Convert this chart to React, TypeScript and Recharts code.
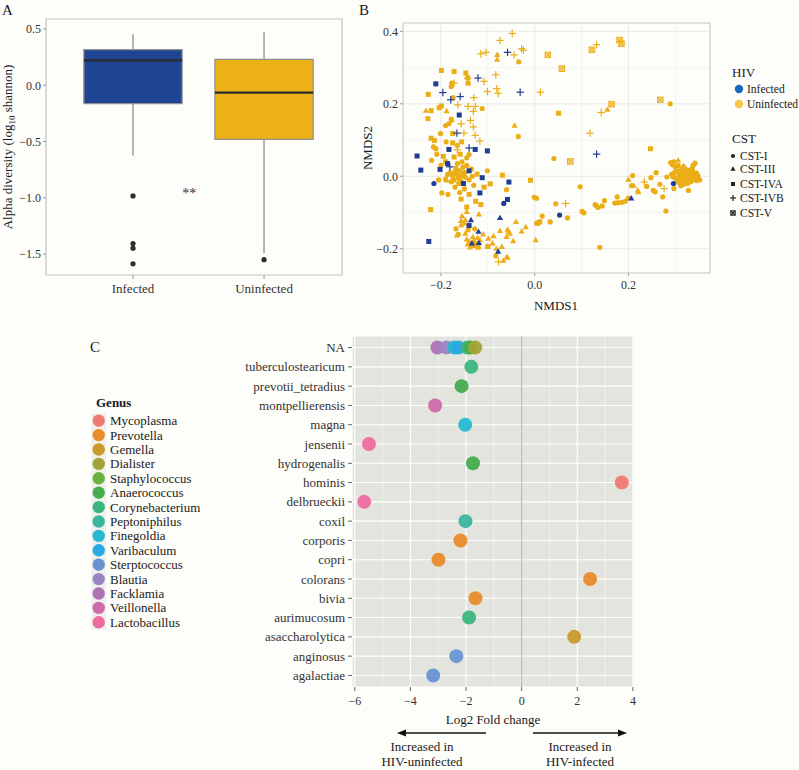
import React from 'react';
import {
  ComposedChart,
  ScatterChart,
  Scatter,
  XAxis,
  YAxis,
  CartesianGrid,
  ReferenceArea,
  ReferenceLine,
} from 'recharts';

const FONT = '"Liberation Serif", "DejaVu Serif", serif';
const INK = '#333333';
const BLUE = '#1f3d94';
const GOLD = '#ebae17';

// ---------- Panel A: alpha diversity box plot ----------
const groups = ['Infected', 'Uninfected'];
const boxFill = ['#1f4592', '#ecb117'];
const q1 = [-0.163, -0.48];
const median = [0.222, -0.066];
const q3 = [0.316, 0.231];
const whiskerLow = [-0.625, -1.49];
const whiskerHigh = [0.453, 0.476];
const outlierGroup = [1, 1, 1, 1, 2];
const outlierValue = [-0.983, -1.407, -1.448, -1.587, -1.55];
const sigMark = [{ x: 1.43, y: -0.936, text: '**' }];

// ---------- Panel B: NMDS ordination, [NMDS1, NMDS2] ----------
const cstNames = ['CST-I', 'CST-III', 'CST-IVA', 'CST-IVB', 'CST-V'];
const cstShapes = ['circle', 'triangle', 'square', 'plus', 'boxcross'];

const infCST1 = [[-0.215, -0.02], [-0.066, -0.075], [0.053, -0.107], [0.296, -0.02]];
const infCST3 = [
  [-0.136, -0.121], [-0.12, -0.153], [-0.074, -0.115], [-0.078, -0.208], [0.206, -0.061],
  [-0.134, -0.185], [-0.119, -0.184],
];
const infCST4A = [
  [-0.211, 0.255], [-0.161, 0.169], [-0.183, 0.074], [-0.127, 0.074], [-0.101, 0.07],
  [-0.251, 0.056], [-0.243, 0.017], [-0.202, 0.019], [-0.186, 0.035], [-0.14, 0.015],
  [-0.112, -0.004], [-0.152, -0.02], [-0.117, -0.046], [-0.055, -0.016], [-0.058, -0.064],
  [-0.226, -0.18], [-0.14, -0.136],
];
const infCST4B = [
  [-0.058, 0.342], [-0.121, 0.271], [-0.031, 0.232], [-0.196, 0.231], [-0.179, 0.211],
  [-0.159, 0.22], [-0.166, 0.119], [-0.14, 0.078], [0.132, 0.061], [-0.181, 0.026],
];
const infCST5: number[][] = [];

const uninfCST1 = [
  [-0.034, 0.316], [-0.112, 0.187], [-0.177, 0.257], [-0.178, 0.248], [-0.174, 0.217],
  [-0.178, 0.158], [-0.183, 0.145], [-0.035, 0.11], [-0.201, 0.118], [-0.216, 0.081],
  [-0.211, 0.076], [-0.189, 0.095], [-0.209, 0.061], [-0.22, 0.044], [-0.145, 0.051],
  [-0.18, 0.01], [-0.101, 0.015], [-0.198, -0.046], [-0.185, -0.05], [-0.06, -0.037],
  [-0.001, -0.058], [0.004, -0.061], [0.041, 0.049], [0.289, 0.2], [0.045, -0.076],
  [0.097, -0.029], [0.101, -0.097], [0.105, -0.101], [0.07, -0.115], [0.016, -0.11],
  [0.01, -0.126], [0.004, -0.129], [0.033, -0.126], [0.139, -0.196], [0.129, -0.078],
  [0.135, -0.086], [0.132, -0.082], [0.144, -0.082], [0.149, -0.067], [0.171, -0.074],
  [0.178, -0.073], [0.186, -0.072], [0.193, -0.069], [0.2, -0.06], [0.176, -0.057],
  [0.207, -0.026], [0.209, 0.002], [0.239, -0.028], [0.248, -0.004], [0.259, 0.01],
  [0.253, -0.039], [0.257, -0.043], [0.267, -0.022], [0.273, -0.057], [0.28, -0.096],
  [0.282, -0.002], [0.297, -0.034], [0.328, -0.039],
  [-0.17, 0.012], [-0.165, 0.005], [-0.16, 0.015], [-0.155, 0.002], [-0.15, 0.01],
  [-0.163, -0.005], [-0.172, -0.01], [-0.158, -0.012], [-0.148, -0.003], [-0.168, 0.022],
  [-0.153, 0.025], [-0.145, 0.03], [-0.175, 0.0], [-0.162, -0.02], [-0.178, -0.015],
  [-0.14, -0.01], [-0.133, 0.0], [-0.135, 0.02], [-0.155, 0.04], [-0.165, 0.035],
  [-0.186, 0.005], [-0.19, -0.008], [-0.205, -0.01], [-0.17, -0.03], [-0.15, -0.035],
  [-0.13, -0.025], [-0.16, -0.045], [-0.2, 0.03],
  [-0.168, -0.145], [-0.163, -0.16], [-0.142, -0.148], [-0.128, -0.145], [-0.083, -0.22],
  [-0.19, 0.14], [-0.165, 0.085], [-0.14, 0.06],
  [0.3, -0.005], [0.305, -0.012], [0.308, 0.002], [0.312, -0.008], [0.315, -0.015],
  [0.318, 0.0], [0.32, -0.01], [0.322, -0.004], [0.325, -0.012], [0.328, -0.002],
  [0.33, -0.009], [0.333, -0.015], [0.335, -0.004], [0.338, -0.01], [0.34, -0.002],
  [0.343, -0.008], [0.346, -0.012], [0.349, -0.006], [0.352, -0.01], [0.31, 0.008],
  [0.316, 0.012], [0.322, 0.006], [0.327, 0.01], [0.332, 0.005], [0.337, 0.012],
  [0.342, 0.004], [0.345, 0.009], [0.303, 0.015], [0.298, 0.01], [0.295, -0.002],
  [0.292, 0.005], [0.3, 0.025], [0.294, 0.032], [0.29, 0.038], [0.297, 0.04],
  [0.313, 0.02], [0.318, 0.026], [0.338, 0.03], [0.342, 0.036], [0.336, 0.022],
  [0.326, -0.02], [0.318, -0.022], [0.308, -0.018], [0.306, 0.03], [0.324, 0.018],
  [0.331, 0.016], [0.348, 0.002], [0.312, -0.026],
];
const uninfCST3 = [
  [-0.08, 0.335], [-0.08, 0.322], [-0.232, 0.181], [-0.188, 0.18], [-0.177, 0.154],
  [-0.043, 0.14], [0.155, 0.184], [0.002, -0.176], [0.2, -0.009], [0.22, -0.039],
  [0.221, -0.044], [0.211, -0.026], [0.306, 0.044], [0.317, 0.028], [0.313, 0.01],
  [0.326, 0.0], [-0.188, -0.011],
  [-0.157, -0.123], [-0.148, -0.121], [-0.157, -0.135], [-0.119, -0.105], [-0.074, -0.151],
  [-0.058, -0.147], [-0.166, -0.163], [-0.148, -0.158], [-0.145, -0.174], [-0.14, -0.18],
  [-0.135, -0.19], [-0.13, -0.178], [-0.125, -0.186], [-0.12, -0.194], [-0.117, -0.176],
  [-0.143, -0.188], [-0.138, -0.196], [-0.128, -0.192], [-0.122, -0.17], [-0.132, -0.168],
  [-0.099, -0.172], [-0.088, -0.165], [-0.101, -0.193], [-0.06, -0.224], [-0.067, -0.233],
  [-0.058, -0.224], [-0.04, -0.126], [-0.019, -0.14], [-0.028, -0.152], [-0.046, -0.179],
  [-0.056, -0.153], [-0.06, -0.167], [-0.053, -0.158], [-0.15, -0.13], [-0.11, -0.16],
  [-0.09, -0.185], [-0.082, -0.2], [-0.07, -0.195], [-0.155, -0.11], [-0.145, -0.098],
];
const uninfCST4A = [
  [-0.199, 0.292], [-0.172, 0.289], [-0.147, 0.285], [-0.143, 0.272], [-0.142, 0.257],
  [-0.227, 0.226], [-0.221, 0.181], [-0.228, 0.159], [-0.204, 0.189], [-0.199, 0.194],
  [-0.221, 0.105], [-0.214, 0.099], [-0.175, 0.092], [-0.156, 0.095], [-0.172, 0.053],
  [-0.159, 0.061], [-0.123, 0.006], [-0.157, -0.063], [-0.14, -0.05], [-0.126, -0.069],
  [-0.115, -0.078], [-0.095, -0.021], [-0.069, 0.003], [-0.009, -0.011], [0.051, 0.174],
  [0.247, 0.076], [-0.222, -0.092], [-0.121, -0.196], [-0.1, -0.194], [0.006, -0.13],
  [0.011, -0.126], [-0.175, 0.118], [-0.19, 0.04], [-0.145, -0.085], [-0.108, -0.03],
  [-0.195, 0.055],
];
const uninfCST4B = [
  [-0.048, 0.394], [-0.074, 0.375], [-0.115, 0.338], [-0.104, 0.342], [-0.044, 0.335],
  [-0.028, 0.352], [-0.024, 0.348], [0.132, 0.363], [-0.083, 0.28], [-0.108, 0.262],
  [0.012, 0.232], [-0.101, 0.234], [-0.081, 0.242], [-0.078, 0.229], [-0.172, 0.257],
  [-0.143, 0.27], [-0.13, 0.217], [-0.142, 0.193], [-0.127, 0.193], [-0.164, 0.197],
  [-0.131, 0.179], [-0.157, 0.145], [-0.137, 0.154], [-0.131, 0.136], [-0.151, 0.119],
  [-0.127, 0.113], [-0.117, 0.097], [-0.165, 0.073], [0.142, 0.176], [0.118, 0.119],
  [0.066, -0.075], [0.234, -0.016], [0.276, -0.034], [-0.077, -0.236],
];
const uninfCST5 = [
  [0.028, 0.335], [0.058, 0.297], [0.122, 0.349], [0.181, 0.376], [0.185, 0.366],
  [0.268, 0.211], [0.076, 0.041], [0.164, 0.199],
];

const uninfectedByCst = [uninfCST1, uninfCST3, uninfCST4A, uninfCST4B, uninfCST5];
const infectedByCst = [infCST1, infCST3, infCST4A, infCST4B, infCST5];

// ---------- Panel C: differential abundance ----------
// bottom to top, as on the axis
const species = [
  'agalactiae', 'anginosus', 'asaccharolytica', 'aurimucosum', 'bivia', 'colorans', 'copri',
  'corporis', 'coxil', 'delbrueckii', 'hominis', 'hydrogenalis', 'jensenii', 'magna',
  'montpellierensis', 'prevotii_tetradius', 'tuberculostearicum', 'NA',
];
const genera = [
  'Mycoplasma', 'Prevotella', 'Gemella', 'Dialister', 'Staphylococcus', 'Anaerococcus',
  'Corynebacterium', 'Peptoniphilus', 'Finegoldia', 'Varibaculum', 'Sterptococcus', 'Blautia',
  'Facklamia', 'Veillonella', 'Lactobacillus',
];
const genusColors = [
  '#ef7a71', '#e88b29', '#c8992b', '#a3a435', '#6ab23f', '#46ad4d', '#3cb57d', '#3bb5a0',
  '#26b9d0', '#2ba9e3', '#6994d1', '#9a85c4', '#ad73b6', '#cd6ba9', '#ee6b9f',
];
const daSpecies = [
  'NA', 'NA', 'NA', 'NA', 'NA', 'NA', 'NA', 'tuberculostearicum', 'prevotii_tetradius',
  'montpellierensis', 'magna', 'jensenii', 'hydrogenalis', 'hominis', 'delbrueckii', 'coxil',
  'corporis', 'copri', 'colorans', 'bivia', 'aurimucosum', 'asaccharolytica', 'anginosus',
  'agalactiae',
];
const daGenus = [
  'Facklamia', 'Blautia', 'Finegoldia', 'Varibaculum', 'Corynebacterium', 'Anaerococcus',
  'Dialister', 'Corynebacterium', 'Anaerococcus', 'Veillonella', 'Finegoldia', 'Lactobacillus',
  'Anaerococcus', 'Mycoplasma', 'Lactobacillus', 'Peptoniphilus', 'Prevotella', 'Prevotella',
  'Prevotella', 'Prevotella', 'Corynebacterium', 'Gemella', 'Sterptococcus', 'Sterptococcus',
];
const daLog2FC = [
  -3.03, -2.7, -2.42, -2.28, -1.95, -1.85, -1.67, -1.81, -2.16, -3.11, -2.03, -5.49, -1.75, 3.6,
  -5.66, -2.02, -2.2, -2.99, 2.46, -1.66, -1.89, 1.89, -2.35, -3.18,
];

const minus = (s: string) => s.replace('-', '\u2212');
const fmt1 = (v: number) => minus(v.toFixed(1));
const fmt0 = (v: number) => minus(String(v));

function Marker({ kind, cx, cy, color, s = 1 }: any) {
  if (kind === 'circle') return <circle cx={cx} cy={cy} r={2.6 * s} fill={color} />;
  if (kind === 'triangle') {
    const h = 3.3 * s;
    return (
      <polygon
        points={`${cx},${cy - h} ${cx - h * 0.95},${cy + h * 0.65} ${cx + h * 0.95},${cy + h * 0.65}`}
        fill={color}
      />
    );
  }
  if (kind === 'square') {
    const a = 2.5 * s;
    return <rect x={cx - a} y={cy - a} width={2 * a} height={2 * a} fill={color} />;
  }
  if (kind === 'plus') {
    const a = 3.7 * s;
    return (
      <g stroke={color} strokeWidth={1.2}>
        <line x1={cx - a} y1={cy} x2={cx + a} y2={cy} />
        <line x1={cx} y1={cy - a} x2={cx} y2={cy + a} />
      </g>
    );
  }
  const a = 2.8 * s;
  return (
    <g stroke={color} strokeWidth={0.9}>
      <rect x={cx - a} y={cy - a} width={2 * a} height={2 * a} fill={color} fillOpacity={0.5} />
      <line x1={cx - a} y1={cy - a} x2={cx + a} y2={cy + a} />
      <line x1={cx - a} y1={cy + a} x2={cx + a} y2={cy - a} />
    </g>
  );
}

const tickText = (size: number) => ({ fill: INK, fontSize: size, fontFamily: FONT });

function PanelA() {
  const outliers = outlierValue.map((v, i) => ({ x: outlierGroup[i], y: v }));
  return (
    <ComposedChart width={360} height={305} margin={{ top: 19, right: 18, bottom: 0, left: 0 }}>
      <XAxis
        type="number"
        dataKey="x"
        domain={[0.336, 2.595]}
        ticks={[1, 2]}
        tickFormatter={(v: number) => groups[v - 1]}
        allowDataOverflow
        height={30}
        axisLine={false}
        tickLine={{ stroke: '#999' }}
        tickSize={4}
        tickMargin={5}
        tick={tickText(13)}
      />
      <YAxis
        type="number"
        dataKey="y"
        domain={[-1.686, 0.589]}
        ticks={[-1.5, -1, -0.5, 0, 0.5]}
        tickFormatter={fmt1}
        allowDataOverflow
        width={46}
        axisLine={false}
        tickLine={{ stroke: '#999' }}
        tickSize={3}
        tickMargin={2}
        tick={tickText(12)}
      />
      <ReferenceArea x1={0.336} x2={2.595} y1={-1.686} y2={0.589} fill="none" stroke="#c2c2c2" strokeWidth={1.2} />
      {groups.map((g, i) => {
        const x = i + 1;
        return [
          <ReferenceLine key={g + 'lo'} segment={[{ x, y: whiskerLow[i] }, { x, y: q1[i] }]} stroke="#a3a3a3" strokeWidth={1.6} />,
          <ReferenceLine key={g + 'hi'} segment={[{ x, y: q3[i] }, { x, y: whiskerHigh[i] }]} stroke="#a3a3a3" strokeWidth={1.6} />,
          <ReferenceArea key={g + 'box'} x1={x - 0.375} x2={x + 0.375} y1={q1[i]} y2={q3[i]} fill={boxFill[i]} fillOpacity={1} stroke="#8f8f8f" strokeWidth={1.2} />,
          <ReferenceLine key={g + 'med'} segment={[{ x: x - 0.375, y: median[i] }, { x: x + 0.375, y: median[i] }]} stroke="#2b2b2b" strokeWidth={2.2} />,
        ];
      })}
      <Scatter
        data={outliers}
        isAnimationActive={false}
        shape={(p: any) => <circle cx={p.cx} cy={p.cy} r={2.6} fill="#2e2e2e" />}
      />
      <Scatter
        data={sigMark}
        isAnimationActive={false}
        shape={(p: any) => (
          <text x={p.cx} y={p.cy + 7} textAnchor="middle" fontSize={14} fontFamily={FONT} fill={INK}>
            {p.payload.text}
          </text>
        )}
      />
    </ComposedChart>
  );
}

function PanelB() {
  const toPts = (arr: number[][]) => arr.map(([x, y]) => ({ x, y }));
  return (
    <ScatterChart width={360} height={320} margin={{ top: 23, right: 10, bottom: 0, left: 0 }}>
      <CartesianGrid
        stroke="#f3f3f1"
        verticalValues={[-0.1, 0.1, 0.3]}
        horizontalValues={[-0.1, 0.1, 0.3]}
      />
      <CartesianGrid stroke="#e8e8e6" />
      <XAxis
        type="number"
        dataKey="x"
        domain={[-0.281, 0.374]}
        ticks={[-0.2, 0, 0.2]}
        tickFormatter={fmt1}
        allowDataOverflow
        height={47}
        axisLine={false}
        tickLine={{ stroke: '#999' }}
        tickSize={3}
        tickMargin={4}
        tick={tickText(12)}
      />
      <YAxis
        type="number"
        dataKey="y"
        domain={[-0.267, 0.423]}
        ticks={[-0.2, 0, 0.2, 0.4]}
        tickFormatter={fmt1}
        allowDataOverflow
        width={43}
        axisLine={false}
        tickLine={{ stroke: '#999' }}
        tickSize={3}
        tickMargin={2}
        tick={tickText(12)}
      />
      <ReferenceArea x1={-0.281} x2={0.374} y1={-0.267} y2={0.423} fill="none" stroke="#cfcfcf" strokeWidth={1.1} />
      {uninfectedByCst.map((arr, i) =>
        arr.length ? (
          <Scatter
            key={'u' + i}
            name={'Uninfected ' + cstNames[i]}
            data={toPts(arr)}
            isAnimationActive={false}
            shape={(p: any) => <Marker kind={cstShapes[i]} cx={p.cx} cy={p.cy} color={GOLD} />}
          />
        ) : null,
      )}
      {infectedByCst.map((arr, i) =>
        arr.length ? (
          <Scatter
            key={'i' + i}
            name={'Infected ' + cstNames[i]}
            data={toPts(arr)}
            isAnimationActive={false}
            shape={(p: any) => <Marker kind={cstShapes[i]} cx={p.cx} cy={p.cy} color={BLUE} />}
          />
        ) : null,
      )}
    </ScatterChart>
  );
}

function PanelC() {
  const data = daLog2FC.map((v, i) => ({
    x: v,
    y: species.indexOf(daSpecies[i]) + 1,
    fill: genusColors[genera.indexOf(daGenus[i])],
  }));
  const rows = species.map((_, i) => i + 1);
  return (
    <ScatterChart width={440} height={412} margin={{ top: 36, right: 6, bottom: 0, left: 0 }}>
      <CartesianGrid fill="#e4e4df" stroke="#ffffff" strokeWidth={1.1} />
      <CartesianGrid stroke="#f6f6f3" strokeWidth={0.6} horizontal={false} verticalValues={[-5, -3, -1, 1, 3]} />
      <XAxis
        type="number"
        dataKey="x"
        domain={[-6.1, 4.04]}
        ticks={[-6, -4, -2, 0, 2, 4]}
        tickFormatter={fmt0}
        allowDataOverflow
        height={25}
        axisLine={false}
        tickLine={{ stroke: '#666' }}
        tickSize={4}
        tickMargin={5}
        tick={tickText(12)}
      />
      <YAxis
        type="number"
        dataKey="y"
        domain={[0.4, 18.6]}
        ticks={rows}
        interval={0}
        tickFormatter={(v: number) => species[v - 1]}
        allowDataOverflow
        width={152}
        axisLine={false}
        tickLine={{ stroke: '#666' }}
        tickSize={4}
        tickMargin={3}
        tick={tickText(13)}
      />
      <ReferenceLine x={0} stroke="#bcbcb8" strokeWidth={1.3} />
      <Scatter
        data={data}
        isAnimationActive={false}
        shape={(p: any) => <circle cx={p.cx} cy={p.cy} r={7} fill={p.payload.fill} fillOpacity={0.95} />}
      />
    </ScatterChart>
  );
}

function Overlay() {
  const t = { fontFamily: FONT, fill: '#1a1a1a' } as const;
  const cstY = [156, 169, 184, 198, 213];
  return (
    <svg width={799} height={770} style={{ position: 'absolute', left: 0, top: 0, pointerEvents: 'none' }}>
      <text x={2} y={15} fontSize={15} {...t}>A</text>
      <text x={359} y={15} fontSize={15} {...t}>B</text>
      <text x={90} y={352} fontSize={15} {...t}>C</text>

      {/* panel A y title */}
      <text transform="rotate(-90 12 147)" x={12} y={147} textAnchor="middle" fontSize={13} {...t}>
        Alpha diversity (log<tspan fontSize={9} dy={3}>10</tspan>
        <tspan dy={-3}> shannon)</tspan>
      </text>

      {/* panel B titles */}
      <text transform="rotate(-90 372 148)" x={372} y={148} textAnchor="middle" fontSize={13} {...t}>NMDS2</text>
      <text x={556} y={310} textAnchor="middle" fontSize={13} {...t}>NMDS1</text>

      {/* panel B legend */}
      <text x={732} y={77} fontSize={13} {...t}>HIV</text>
      <circle cx={739} cy={89} r={4.2} fill="#1768c0" />
      <text x={747} y={93} fontSize={11.5} {...t}>Infected</text>
      <circle cx={739} cy={104} r={4.2} fill="#f7c647" />
      <text x={747} y={108} fontSize={11.5} {...t}>Uninfected</text>
      <text x={732} y={143} fontSize={13} {...t}>CST</text>
      {cstNames.map((n, i) => (
        <g key={n}>
          <Marker kind={cstShapes[i]} cx={733} cy={cstY[i]} color="#222" s={0.8} />
          <text x={740} y={cstY[i] + 4} fontSize={11.5} {...t}>{n}</text>
        </g>
      ))}

      {/* panel C legend */}
      <text x={96} y={407} fontSize={13} fontWeight="bold" {...t}>Genus</text>
      <rect x={91.5} y={413.5} width={14.5} height={216} fill="#efefeb" />
      {genera.map((g, i) => (
        <g key={g}>
          <circle cx={98.7} cy={420.7 + i * 14.4} r={6.2} fill={genusColors[i]} />
          <text x={110} y={425.2 + i * 14.4} fontSize={13} {...t}>{g}</text>
        </g>
      ))}

      {/* panel C x title and arrows */}
      <text x={493} y={724} textAnchor="middle" fontSize={13} {...t}>Log2 Fold change</text>
      <line x1={486} y1={733} x2={404} y2={733} stroke="#111" strokeWidth={1.6} />
      <polygon points="397,733 406,729.5 406,736.5" fill="#111" />
      <line x1={533} y1={733} x2={620} y2={733} stroke="#111" strokeWidth={1.6} />
      <polygon points="627,733 618,729.5 618,736.5" fill="#111" />
      <text x={422} y={751} textAnchor="middle" fontSize={13} {...t}>Increased in</text>
      <text x={422} y={766} textAnchor="middle" fontSize={13} {...t}>HIV-uninfected</text>
      <text x={580} y={751} textAnchor="middle" fontSize={13} {...t}>Increased in</text>
      <text x={580} y={766} textAnchor="middle" fontSize={13} {...t}>HIV-infected</text>
    </svg>
  );
}

export default function App() {
  return (
    <div
      style={{
        position: 'absolute',
        left: 0,
        top: 0,
        width: 799,
        height: 770,
        background: '#fdfdf9',
        fontFamily: FONT,
        overflow: 'hidden',
      }}
    >
      <div style={{ position: 'absolute', left: 0, top: 0 }}>
        <PanelA />
      </div>
      <div style={{ position: 'absolute', left: 360, top: 0 }}>
        <PanelB />
      </div>
      <div style={{ position: 'absolute', left: 200, top: 300 }}>
        <PanelC />
      </div>
      <Overlay />
    </div>
  );
}
